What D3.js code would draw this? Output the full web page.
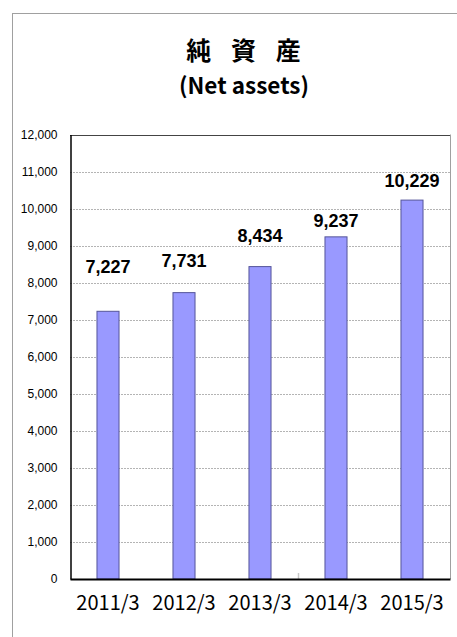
<!DOCTYPE html>
<html>
<head>
<meta charset="utf-8">
<script src="https://cdn.jsdelivr.net/npm/d3@7"></script>
<style>
  html, body { margin: 0; padding: 0; background: #fff; }
  svg { display: block; }
</style>
</head>
<body>
<svg id="chart" width="457" height="637"></svg>
<script>
const categories = ["2011/3", "2012/3", "2013/3", "2014/3", "2015/3"];
const netAssets = [7227, 7731, 8434, 9237, 10229];
const yTicks = [0, 1000, 2000, 3000, 4000, 5000, 6000, 7000, 8000, 9000, 10000, 11000, 12000];
const titleJa = "純 資 産";
const titleEn = "(Net assets)";

// label anchor heights (value units) as placed in the original chart
const labelAt = [8250, 8415, 9110, 9490, 10570];

const svg = d3.select("#chart");
const W = 457, H = 637;
const m = { left: 70, right: 450, top: 134.5, bottom: 579 };

// outer frame (extends past the image on right/bottom)
svg.append("rect")
  .attr("x", 12.5).attr("y", 13.5)
  .attr("width", W + 20).attr("height", H + 20)
  .attr("fill", "#fff").attr("stroke", "#a0a0a0").attr("stroke-width", 1);

// titles
svg.append("text")
  .attr("x", 247).attr("y", 60)
  .attr("text-anchor", "middle")
  .attr("font-family", "'Noto Sans CJK JP', sans-serif")
  .attr("font-weight", "bold").attr("font-size", 25)
  .attr("letter-spacing", 7)
  .attr("fill", "#000")
  .attr("xml:space", "preserve")
  .style("white-space", "pre")
  .text(titleJa);

svg.append("text")
  .attr("x", 244).attr("y", 94)
  .attr("text-anchor", "middle")
  .attr("font-family", "'Noto Sans CJK JP', sans-serif")
  .attr("font-weight", "bold").attr("font-size", 22.5)
  .attr("fill", "#000")
  .text(titleEn);

const x = d3.scaleBand().domain(categories).range([m.left, m.right]).padding(0);
const y = d3.scaleLinear().domain([0, 12000]).range([m.bottom, m.top]);
const barW = x.bandwidth() * 0.29;

// gridlines
svg.append("g")
  .selectAll("line")
  .data(yTicks.filter(d => d > 0 && d < 12000))
  .join("line")
  .attr("x1", m.left).attr("x2", m.right)
  .attr("y1", d => Math.round(y(d)) + 0.5).attr("y2", d => Math.round(y(d)) + 0.5)
  .attr("stroke", "#b4b4b4").attr("stroke-width", 1)
  .attr("stroke-dasharray", "2,1");

// plot border top/right
svg.append("line")
  .attr("x1", m.left).attr("x2", m.right)
  .attr("y1", Math.round(y(12000)) + 0.5).attr("y2", Math.round(y(12000)) + 0.5)
  .attr("stroke", "#444");
svg.append("line")
  .attr("x1", m.right + 0.5).attr("x2", m.right + 0.5)
  .attr("y1", y(12000)).attr("y2", y(0))
  .attr("stroke", "#a0a0a0");

// bars
svg.append("g")
  .selectAll("rect")
  .data(netAssets)
  .join("rect")
  .attr("x", (d, i) => x(categories[i]) + (x.bandwidth() - barW) / 2)
  .attr("y", d => y(d))
  .attr("width", barW)
  .attr("height", d => y(0) - y(d))
  .attr("fill", "#9999ff")
  .attr("stroke", "#55559a").attr("stroke-width", 1);

// small tick between 3rd and 4th category
svg.append("line")
  .attr("x1", x(categories[3]) + 0.5).attr("x2", x(categories[3]) + 0.5)
  .attr("y1", y(0) - 6).attr("y2", y(0))
  .attr("stroke", "#c8c8c8").attr("stroke-width", 1.5);

// y axis
const yAxis = d3.axisLeft(y).tickValues(yTicks).tickSize(0).tickPadding(13)
  .tickFormat(d3.format(","));
const gy = svg.append("g").attr("transform", `translate(${m.left + 0.5},0)`).call(yAxis);
gy.select(".domain").attr("stroke", "#000").attr("stroke-width", 1.5);
gy.selectAll("text")
  .attr("font-family", "'Liberation Sans', Arial, sans-serif")
  .attr("font-size", 12).attr("fill", "#000");

// x axis
const xAxis = d3.axisBottom(x).tickSize(0).tickPadding(17);
const gx = svg.append("g").attr("transform", `translate(0,${m.bottom})`).call(xAxis);
gx.select(".domain").attr("stroke", "#000").attr("stroke-width", 2);
gx.selectAll("text")
  .attr("font-family", "'Noto Sans CJK JP', sans-serif")
  .attr("font-size", 20).attr("fill", "#000");

// value labels
svg.append("g")
  .selectAll("text")
  .data(netAssets)
  .join("text")
  .attr("x", (d, i) => x(categories[i]) + x.bandwidth() / 2)
  .attr("y", (d, i) => y(labelAt[i]))
  .attr("text-anchor", "middle")
  .attr("font-family", "'Liberation Sans', Arial, sans-serif")
  .attr("font-weight", "bold").attr("font-size", 18)
  .attr("fill", "#000")
  .text(d => d3.format(",")(d));
</script>
</body>
</html>
